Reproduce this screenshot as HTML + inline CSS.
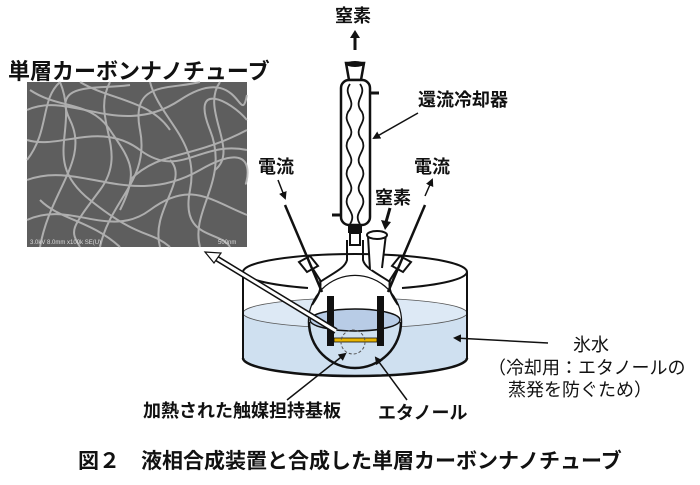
<!DOCTYPE html>
<html><head><meta charset="utf-8"><style>
html,body{margin:0;padding:0;background:#fff;}
svg{display:block;}
text{font-family:"Liberation Sans","Noto Sans CJK JP",sans-serif;fill:#111;}
</style></head><body>
<svg width="700" height="485" viewBox="0 0 700 485" xmlns="http://www.w3.org/2000/svg">
<defs>
<marker id="ah" markerWidth="8" markerHeight="8" refX="6" refY="4" orient="auto" markerUnits="userSpaceOnUse"><path d="M0,0 L8,4 L0,8 z" fill="#111"/></marker>
</defs>
<text x="8" y="79" font-size="22" font-weight="bold">単層カーボンナノチューブ</text>
<rect x="27" y="82" width="220" height="165" fill="#5e5e5e"/>
<g fill="none" stroke="#bdbdbd" stroke-width="2" opacity="0.85">
<path d="M27,110 C70,90 120,140 180,100 S240,130 247,95"/>
<path d="M40,247 C50,190 90,160 70,120 S100,90 130,85"/>
<path d="M100,247 C110,200 150,180 140,130 S170,90 200,82"/>
<path d="M27,180 C80,160 130,210 200,170 S240,200 247,180"/>
<path d="M60,82 C80,130 40,160 90,200 S150,230 170,247"/>
<path d="M150,82 C160,120 200,140 190,190 S220,230 230,247"/>
<path d="M27,140 C60,150 100,120 140,150 S200,140 247,150"/>
<path d="M200,247 C190,210 230,180 210,130 S230,100 247,120"/>
<path d="M120,247 C90,220 60,220 40,200"/>
<path d="M30,90 C60,110 90,100 110,130 S140,170 120,210"/>
<path d="M170,160 C190,180 150,210 160,247"/>
<path d="M80,82 C110,100 150,100 170,130"/>
<path d="M27,220 C70,200 110,240 150,210 S210,200 247,215"/>
<path d="M110,82 C90,120 130,150 100,190 S70,230 80,247"/>
<path d="M220,82 C200,110 240,150 215,170"/>
<path d="M27,160 C50,130 40,100 60,82"/>
<path d="M130,180 C160,150 190,160 247,130"/>
</g>
<text x="30" y="244" font-size="6" style="fill:#ddd">3.0kV 8.0mm x100k SE(U)</text>
<text x="218" y="244" font-size="6" style="fill:#ddd">500nm</text>

<text x="335" y="22" font-size="18" font-weight="bold">窒素</text>
<path d="M355,50 L355,36" stroke="#111" stroke-width="3"/>
<path d="M350,38 L355,30 L360,38 z" fill="#111"/>

<path d="M243,272 A112,18 0 0 1 467,272" fill="none" stroke="#111" stroke-width="2"/>
<path d="M243,313 A112,15 0 0 0 467,313 L467,358 A112,18 0 0 1 243,358 z" fill="#cfe0f0"/>
<ellipse cx="355" cy="313" rx="112" ry="15" fill="#dde9f5" stroke="#555" stroke-width="0.8"/>
<path d="M243,358 A112,18 0 0 0 467,358" fill="#cfe0f0" stroke="#111" stroke-width="2.5"/>
<line x1="243" y1="272" x2="243" y2="358" stroke="#111" stroke-width="2"/>
<line x1="467" y1="272" x2="467" y2="358" stroke="#111" stroke-width="2"/>

<circle cx="355" cy="322" r="46" fill="#cfe0f0" stroke="#111" stroke-width="2.5"/>
<path d="M309,322 A46,46 0 0 1 401,322" fill="#fff" stroke="none"/>
<ellipse cx="355" cy="320" rx="45" ry="11" fill="#b8cce6" stroke="#111" stroke-width="1.5"/>
<path d="M312,305 C318,296 322,290 320,280 L306,258 M398,305 C392,296 388,290 390,280 L404,258" fill="none" stroke="#111" stroke-width="2"/>
<path d="M320,282 C335,272 345,268 347,260 L347,240 M390,282 C375,272 365,268 363,260 L363,240" fill="none" stroke="#111" stroke-width="2"/>
<path d="M370,270 L368,236 L386,234 L382,268" fill="#fff" stroke="#111" stroke-width="2"/>
<ellipse cx="377" cy="235" rx="10" ry="4" fill="#fff" stroke="#111" stroke-width="2"/>
<path d="M299,262 L310,256 L318,266 L307,272 z" fill="#fff" stroke="#111" stroke-width="2"/>
<path d="M411,262 L400,256 L392,266 L403,272 z" fill="#fff" stroke="#111" stroke-width="2"/>
<rect x="327" y="296" width="7" height="50" fill="#111"/>
<rect x="377" y="296" width="7" height="50" fill="#111"/>
<rect x="334" y="338" width="43" height="4" fill="#e8b400" stroke="#111" stroke-width="0.8"/>
<circle cx="353" cy="342" r="12" fill="none" stroke="#555" stroke-width="1" stroke-dasharray="3,2"/>
<path d="M243,272 A112,18 0 0 0 308,288 M402,288 A112,18 0 0 0 467,272" fill="none" stroke="#111" stroke-width="2"/>

<g stroke="#111" stroke-width="2.5" fill="#fff">
<path d="M346,63 L364,63 L361,80 L349,80 z"/>
<rect x="341" y="80" width="29" height="145" rx="8"/>
</g>
<ellipse cx="355" cy="64" rx="9" ry="3" fill="#111"/>
<path d="M370,93 L379,93 M332,215 L341,215" stroke="#111" stroke-width="3"/>
<g fill="none" stroke="#111" stroke-width="1.8">
<path d="M350,84 C342,95 358,100 348,112 C342,124 358,128 348,140 C342,152 358,156 348,168 C342,180 358,184 348,196 C342,208 358,212 350,224"/>
<path d="M360,84 C368,95 352,100 362,112 C368,124 352,128 362,140 C368,152 352,156 362,168 C368,180 352,184 362,196 C368,208 352,212 360,224"/>
</g>
<rect x="348" y="225" width="14" height="8" fill="#111"/>
<rect x="350" y="233" width="10" height="12" fill="#fff" stroke="#111" stroke-width="2"/>

<text x="418" y="106" font-size="18" font-weight="bold">還流冷却器</text>
<line x1="418" y1="113" x2="374" y2="138" stroke="#111" stroke-width="1.5" marker-end="url(#ah)"/>
<text x="258" y="173" font-size="18" font-weight="bold">電流</text>
<line x1="278" y1="180" x2="285" y2="198" stroke="#111" stroke-width="1.5" marker-end="url(#ah)"/>
<line x1="285" y1="205" x2="322" y2="292" stroke="#111" stroke-width="2.5"/>
<text x="414" y="173" font-size="18" font-weight="bold">電流</text>
<line x1="425" y1="196" x2="432" y2="180" stroke="#111" stroke-width="1.5" marker-end="url(#ah)"/>
<line x1="388" y1="292" x2="425" y2="205" stroke="#111" stroke-width="2.5"/>
<text x="375" y="204" font-size="18" font-weight="bold">窒素</text>
<path d="M390,208 L386,222" stroke="#111" stroke-width="3"/>
<path d="M381,220 L385,230 L391,222 z" fill="#111"/>
<path d="M336,331 L216,258" stroke="#111" stroke-width="6"/>
<path d="M336,331 L216,258" stroke="#fff" stroke-width="3"/>
<path d="M205,252 L221,253 L214,263 z" fill="#fff" stroke="#111" stroke-width="1.2"/>

<text x="573" y="351" font-size="18">氷水</text>
<text x="488" y="374" font-size="18">（冷却用：エタノールの</text>
<text x="508" y="396" font-size="18">蒸発を防ぐため）</text>
<line x1="548" y1="343" x2="455" y2="338" stroke="#111" stroke-width="1.5" marker-end="url(#ah)"/>
<text x="143" y="417" font-size="18" font-weight="bold">加熱された触媒担持基板</text>
<line x1="287" y1="400" x2="345" y2="354" stroke="#111" stroke-width="1.5" marker-end="url(#ah)"/>
<text x="378" y="419" font-size="18" font-weight="bold">エタノール</text>
<line x1="407" y1="400" x2="376" y2="358" stroke="#111" stroke-width="1.5" marker-end="url(#ah)"/>

<text x="78" y="468" font-size="21" font-weight="bold">図２　液相合成装置と合成した単層カーボンナノチューブ</text>
</svg>
</body></html>
